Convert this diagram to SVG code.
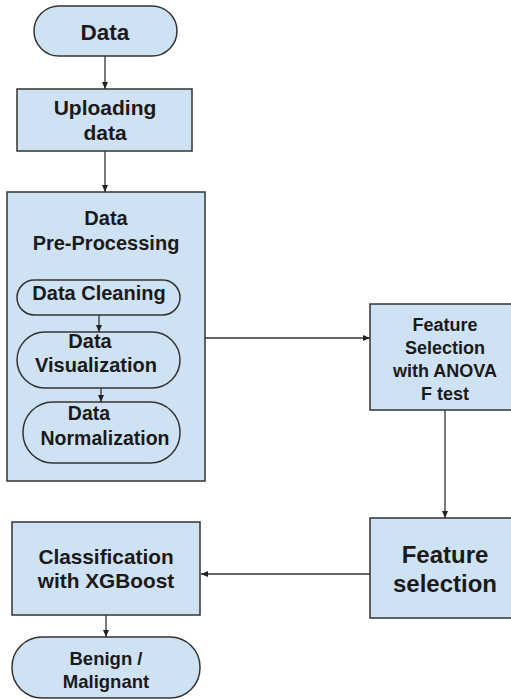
<svg xmlns="http://www.w3.org/2000/svg" width="511" height="699" viewBox="0 0 511 699">
<defs>
<marker id="ah" markerWidth="8" markerHeight="8" refX="7" refY="4" orient="auto" markerUnits="userSpaceOnUse">
<path d="M0,1 L7,4 L0,7 Z" fill="#222"/>
</marker>
<style>
.n{fill:#cfe2f3;stroke:#333;stroke-width:1.5}
.t{font-family:"Liberation Sans",Arial,sans-serif;font-weight:bold;fill:#1a1a1a;text-anchor:middle}
.c{stroke:#333;stroke-width:1.3;fill:none;marker-end:url(#ah)}
</style>
</defs>
<rect width="511" height="699" fill="#fff"/>
<g id="data">
<rect class="n" x="34" y="6" width="143" height="50" rx="25"/>
<text class="t" x="105" y="40" font-size="22.5">Data</text>
</g>
<g id="uploading">
<rect class="n" x="17" y="89" width="175" height="62"/>
<text class="t" x="105" y="115" font-size="21">Uploading</text>
<text class="t" x="105" y="140" font-size="21">data</text>
</g>
<g id="preprocessing">
<rect class="n" x="7" y="192" width="198" height="289"/>
<text class="t" x="106" y="225" font-size="20">Data</text>
<text class="t" x="106" y="250" font-size="20">Pre-Processing</text>
</g>
<g id="cleaning">
<rect class="n" x="17" y="280" width="163" height="35" rx="17.5"/>
<text class="t" x="99" y="300" font-size="20">Data Cleaning</text>
</g>
<g id="visualization">
<rect class="n" x="17" y="332" width="163" height="56" rx="28"/>
<text class="t" x="90" y="348" font-size="20">Data</text>
<text class="t" x="96" y="372" font-size="20">Visualization</text>
</g>
<g id="normalization">
<rect class="n" x="23" y="402" width="157" height="61" rx="30"/>
<text class="t" x="89" y="420" font-size="19.5">Data</text>
<text class="t" x="105" y="445" font-size="19.5">Normalization</text>
</g>
<g id="anova">
<rect class="n" x="370" y="304" width="145" height="106"/>
<text class="t" x="445" y="331" font-size="18">Feature</text>
<text class="t" x="445" y="354" font-size="18">Selection</text>
<text class="t" x="445" y="377" font-size="18">with ANOVA</text>
<text class="t" x="445" y="400" font-size="18">F test</text>
</g>
<g id="featsel">
<rect class="n" x="370" y="518" width="145" height="100"/>
<text class="t" x="445" y="563" font-size="24">Feature</text>
<text class="t" x="445" y="592" font-size="24">selection</text>
</g>
<g id="classification">
<rect class="n" x="12" y="522" width="188" height="93"/>
<text class="t" x="106" y="564" font-size="20.8">Classification</text>
<text class="t" x="106" y="588" font-size="20.8">with XGBoost</text>
</g>
<g id="result">
<rect class="n" x="12" y="637" width="188" height="61" rx="30"/>
<text class="t" x="106" y="665" font-size="18.5">Benign /</text>
<text class="t" x="106" y="688" font-size="18.5">Malignant</text>
</g>
<g id="connectors">
<line class="c" x1="105" y1="56" x2="105" y2="89"/>
<line class="c" x1="105" y1="151" x2="105" y2="192"/>
<line class="c" x1="99" y1="315" x2="99" y2="332"/>
<line class="c" x1="101" y1="388" x2="101" y2="402"/>
<line class="c" x1="205" y1="338" x2="370" y2="338"/>
<line class="c" x1="445" y1="410" x2="445" y2="518"/>
<line class="c" x1="370" y1="574" x2="201" y2="574"/>
<line class="c" x1="106" y1="615" x2="106" y2="637"/>
</g>
</svg>
